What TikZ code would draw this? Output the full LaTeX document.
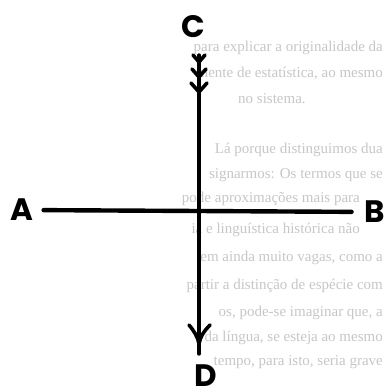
\documentclass[tikz,border=0pt]{standalone}
\usepackage{fontspec}
\setmainfont{Liberation Serif}
\newfontfamily\lblfont{Poppins}
\tikzset{
  bgtext/.style={anchor=east, inner sep=0pt, text=black!22, font=\fontsize{15}{15}\selectfont},
  lbl/.style={inner sep=0pt, font=\lblfont\bfseries\fontsize{31}{31}\selectfont},
  shaft/.style={line width=3.4pt, line cap=round},
  hline/.style={line width=4.4pt, line cap=round},
  barb/.style={line width=3.6pt, line cap=round, line join=round}
}
\begin{document}
\begin{tikzpicture}[x=1pt,y=-1pt]
\useasboundingbox (0,0) rectangle (384,386);
\fill[white] (0,0) rectangle (384,386);
% faint show-through text
\node[bgtext] (t1) at (383,48) {para explicar a originalidade da};
\node[bgtext] (t2) at (383,73) {mente de estatística, ao mesmo};
\node[bgtext, anchor=west] (t3) at (238,99) {no sistema.};
\node[bgtext] (t4) at (383,150) {Lá porque distinguimos dua};
\node[bgtext] (t5) at (383,175) {signarmos: Os termos que se};
\node[bgtext] (t6) at (360,199) {pode aproximações mais para};
\node[bgtext] (t7) at (360,230) {ia e linguística histórica não};
\node[bgtext] (t8) at (383,258) {em ainda muito vagas, como a};
\node[bgtext] (t9) at (383,286) {partir a distinção de espécie com};
\node[bgtext] (t10) at (383,313) {os, pode-se imaginar que, a};
\node[bgtext] (t11) at (383,338) {da língua, se esteja ao mesmo};
\node[bgtext] (t12) at (383,362) {tempo, para isto, seria grave};
% labels
\node[lbl] (C) at (193,27) {C};
\node[lbl] (D) at (206,376) {D};
\node[lbl] (A) at (22,210) {A};
\node[lbl] (B) at (375,212) {B};
% vertical arrow
\coordinate (Cs) at (199,55);
\coordinate (Dt) at (199,354);
\draw[shaft] (Cs) -- (Dt);
% fletching
\draw[barb] (193,55) -- (199,62) -- (205,55);
\draw[barb] (192,69) -- (199,77) -- (206,69);
\draw[barb] (191,83) -- (199,92) -- (207,83);
% arrow head
\draw[barb] (189,325) .. controls (194,331) and (198,337) .. (199,344) .. controls (200,337) and (204,331) .. (210,325);
% horizontal line
\draw[hline, shorten <=10pt, shorten >=13pt] (A) -- (B);
\end{tikzpicture}
\end{document}
